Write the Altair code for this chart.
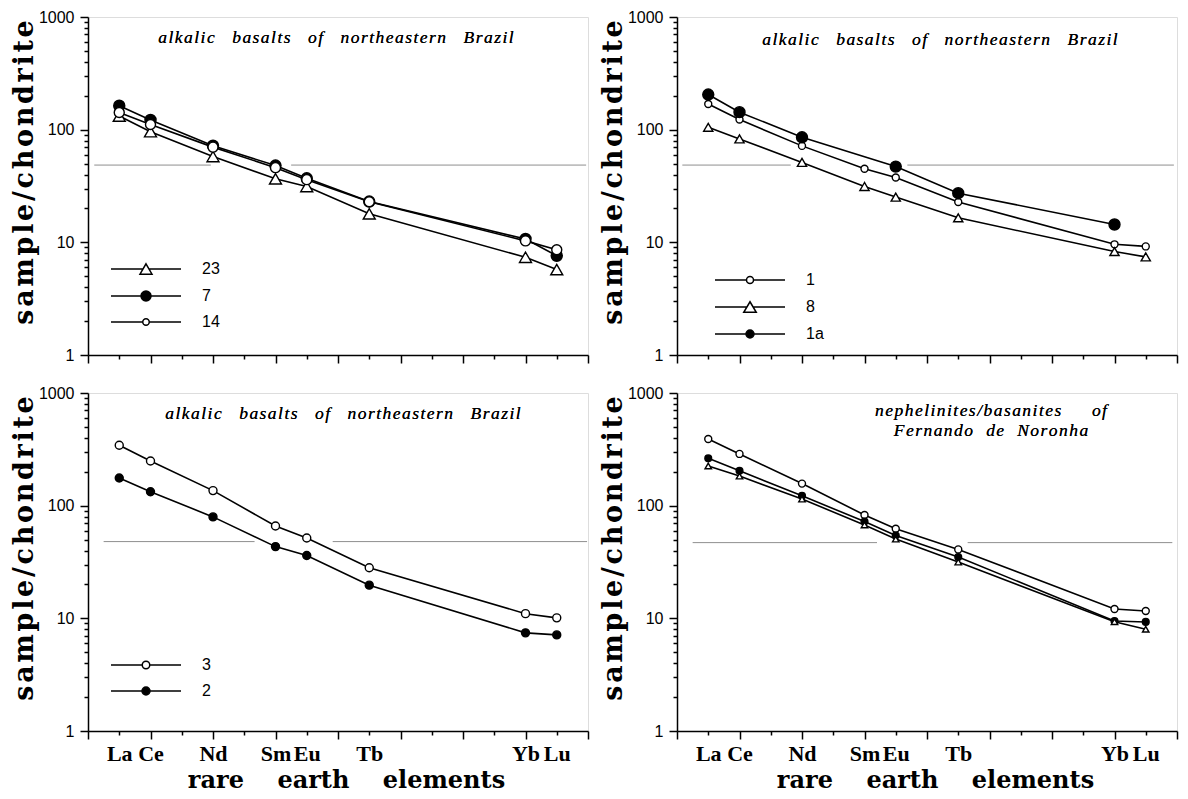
import altair as alt
import pandas as pd

# ---------------- data ----------------
elements = ["La", "Ce", "Nd", "Sm", "Eu", "Tb", "Yb", "Lu"]
atomic_numbers = [57, 58, 60, 62, 63, 65, 70, 71]

# top-left panel
tl_samples = ["23", "7", "14"]
tl_23 = [132, 96, 57.7, 36.6, 31.3, 17.9, 7.37, 5.73]
tl_7 = [163, 122, 72, 48, 37, 23, 10.7, 7.6]
tl_14 = [142, 111, 70, 46, 36, 22.9, 10.3, 8.6]

# top-right panel
tr_samples = ["1", "8", "1a"]
tr_1 = [169, 123, 71.8, 45, 37.6, 22.8, 9.6, 9.2]
tr_8 = [105, 82.8, 51.2, 31.3, 25.2, 16.5, 8.28, 7.43]
tr_1a = [205, 143, 85.6, None, 47, 27.3, 14.4, None]

# bottom-left panel
bl_samples = ["3", "2"]
bl_3 = [344, 249, 136, 66, 51.6, 28.1, 11.0, 10.1]
bl_2 = [176, 133, 79.5, 43.3, 36.1, 19.7, 7.43, 7.13]

# bottom-right panel (no legend in the original)
br_samples = ["open", "filled", "triangle"]
br_open = [390, 288, 157, 82.7, 62.3, 40.9, 12.1, 11.6]
br_filled = [263, 204, 122.5, 72.2, 54.4, 35.0, 9.47, 9.29]
br_triangle = [225, 183, 114.5, 67.5, 50.5, 31.6, 9.34, 8.0]

# faint horizontal line segments seen in each panel (x in atomic-number units)
tl_gray = {"z": [56.2, 62.5], "z2": [59.93, 71.94], "value": [48.5, 48.5]}
tr_gray = {"z": [56.17, 63.37], "z2": [59.64, 71.9], "value": [48.5, 48.5]}
bl_gray = {"z": [56.5, 63.83], "z2": [61.33, 71.97], "value": [48, 48]}
br_gray = {"z": [56.5, 65.3], "z2": [62.4, 71.85], "value": [47, 47]}

# ---------------- styling helpers ----------------
PW, PH = 500, 338
HAIR = "\u200a"
NB = "\u00a0"


def spaced(text, gap=3):
    return (NB * gap).join(HAIR.join(w) for w in text.split())


def circle_path(r, L=7.0):
    return (f"M{-L},0H{-r}M{r},0H{L}"
            f"M{-r},0A{r},{r} 0 1,1 {r},0A{r},{r} 0 1,1 {-r},0Z")


def tri_path(w, h, L=7.0):
    return (f"M{-L},0H{-w/2}M{w/2},0H{L}"
            f"M0,{-h}L{w},{h}L{-w},{h}Z")


major_y = [1, 10, 100, 1000]
minor_y = [d * m for d in (1, 10, 100) for m in range(2, 10)]
even_x = list(range(56, 73, 2))
odd_x = list(range(57, 72, 2))

x_label_expr = (f"indexof({atomic_numbers}, datum.value) >= 0 ? "
                f"{elements}[indexof({atomic_numbers}, datum.value)] : ''")

XS = alt.Scale(domain=[56, 72], nice=False, zero=False)
YS = alt.Scale(type="log", domain=[1, 1000], nice=False)
TICK = dict(ticks=True, tickColor="black", tickWidth=1.5, tickOpacity=1, grid=False)


def panel(series, order, shapes, fills, sizes, gray, title, title_xy,
          bottom, legend_paths=None, legend_xy=None):
    rows = []
    for name in order:
        for el, z, v in zip(elements, atomic_numbers, series[name]):
            if v is not None:
                rows.append({"sample": name, "element": el, "z": z, "value": v})
    df = pd.DataFrame(rows)
    gdf = pd.DataFrame(gray)

    # main axes (domain, major ticks, labels, titles)
    xmaj_kw = dict(values=even_x, tickSize=8, labels=False, orient="bottom",
                   title=None, domainColor="black", domainWidth=1.5, **TICK)
    if bottom:
        xmaj_kw.update(
            title=(NB * 4).join(["rare", "earth", "elements"]),
            titleFont="DejaVu Serif", titleFontWeight="bold", titleFontSize=24,
            titleColor="black",
            titleBaseline="alphabetic", titleAlign="center", titleX=258, titleY=56,
        )
    x_major = alt.Axis(**xmaj_kw)
    y_major = alt.Axis(
        values=major_y, format="d", tickSize=8, labelPadding=6, orient="left",
        labelFont="Liberation Sans", labelFontSize=16, labelColor="black",
        labelOverlap=False, labelFlush=False,
        domainColor="black", domainWidth=1.5,
        title=HAIR.join("sample/chondrite"), titleFont="DejaVu Serif",
        titleFontWeight="bold", titleColor="black",
        titleFontSize=27, titleAngle=270, titleAlign="center",
        titleBaseline="alphabetic", titleX=-56, titleY=155, **TICK,
    )
    x_minor = alt.Axis(values=odd_x, tickSize=4, labels=False, domain=False,
                       orient="bottom", title=None, **TICK)
    y_minor = alt.Axis(values=minor_y, tickSize=4, labels=False, domain=False,
                       orient="left", title=None, **TICK)
    x_lab = alt.Axis(values=atomic_numbers, labelExpr=x_label_expr, ticks=False,
                     tickSize=0, domain=False, grid=False, orient="bottom", title=None,
                     labelFont="Liberation Serif", labelFontWeight="bold",
                     labelColor="black",
                     labelFontSize=22, labelBaseline="alphabetic", labelPadding=29,
                     labelOverlap=False, labelFlush=False)

    grayl = alt.Chart(gdf).mark_rule(color="#8f8f8f", strokeWidth=1).encode(
        x=alt.X("z:Q", scale=XS, axis=x_major), x2="z2:Q",
        y=alt.Y("value:Q", scale=YS, axis=y_major))
    lines = alt.Chart(df).mark_line(color="black", strokeWidth=1.6).encode(
        x=alt.X("z:Q", scale=XS, axis=x_minor),
        y=alt.Y("value:Q", scale=YS, axis=y_minor),
        detail="sample:N")
    pts = alt.Chart(df).mark_point(stroke="black", strokeWidth=1.4, opacity=1).encode(
        x=alt.X("z:Q", scale=XS, axis=x_lab if bottom else None),
        y=alt.Y("value:Q", scale=YS, axis=None),
        shape=alt.Shape("sample:N", scale=alt.Scale(domain=order, range=shapes), legend=None),
        fill=alt.Fill("sample:N", scale=alt.Scale(domain=order, range=fills), legend=None),
        size=alt.Size("sample:O", scale=alt.Scale(domain=order, range=sizes), legend=None),
    )
    ttl = alt.Chart(gdf).mark_text(
        font="Liberation Serif", fontStyle="italic", fontSize=17.5, color="black",
        align="center", baseline="alphabetic", lineHeight=20,
    ).encode(x=alt.value(title_xy[0]), y=alt.value(title_xy[1]),
             text=alt.value(title))
    layers = [grayl, lines, pts]
    if legend_paths is not None:
        lkw = dict(
            title=None, orient="none", legendX=legend_xy[0], legendY=legend_xy[1],
            labelFont="Liberation Sans", labelFontSize=16, labelColor="black",
            labelOffset=48, rowPadding=10, symbolSize=100,
            symbolStrokeColor="black", symbolStrokeWidth=1.5, symbolOpacity=1,
            padding=0,
        )
        leg = alt.Chart(df).transform_filter("false").mark_point(
            stroke="black", strokeWidth=1.5, opacity=1
        ).encode(
            x=alt.X("z:Q", scale=XS, axis=None),
            y=alt.Y("value:Q", scale=YS, axis=None),
            shape=alt.Shape("sample:N", scale=alt.Scale(domain=order, range=legend_paths),
                            legend=alt.Legend(**lkw)),
            fill=alt.Fill("sample:N", scale=alt.Scale(domain=order, range=fills),
                          legend=alt.Legend(**lkw)),
            stroke=alt.Stroke("sample:N",
                              scale=alt.Scale(domain=order, range=["black"] * len(order)),
                              legend=alt.Legend(**lkw)),
        )
        layers.append(leg)
    return alt.layer(*(layers + [ttl])).resolve_scale(
        shape="independent", fill="independent", size="independent",
        stroke="independent",
    ).resolve_axis(x="independent", y="independent").properties(width=PW, height=PH)


tl = panel({"23": tl_23, "7": tl_7, "14": tl_14}, tl_samples,
           ["triangle-up", "circle", "circle"], ["white", "black", "white"],
           [144, 100, 56], tl_gray,
           spaced("alkalic basalts of northeastern Brazil", 4), (248, 26), False,
           legend_paths=[tri_path(1.2, 1.04), circle_path(1.0), circle_path(0.65)],
           legend_xy=(50, 244))

tr = panel({"1": tr_1, "8": tr_8, "1a": tr_1a}, tr_samples,
           ["circle", "triangle-up", "circle"], ["white", "white", "black"],
           [49, 121, 64], tr_gray,
           spaced("alkalic basalts of northeastern Brazil", 4), (263, 28), False,
           legend_paths=[circle_path(0.7), tri_path(1.25, 1.05), circle_path(0.8)],
           legend_xy=(65, 255))

bl = panel({"3": bl_3, "2": bl_2}, bl_samples,
           ["circle", "circle"], ["white", "black"],
           [64, 64], bl_gray,
           spaced("alkalic basalts of northeastern Brazil", 4), (255, 26), True,
           legend_paths=[circle_path(0.75), circle_path(0.8)],
           legend_xy=(50, 264))

br_line1 = spaced("nephelinites/basanites", 3) + NB * 7 + spaced("of", 3)
br = panel({"open": br_open, "filled": br_filled, "triangle": br_triangle}, br_samples,
           ["circle", "circle", "triangle-up"], ["white", "black", "white"],
           [49, 42, 169], br_gray,
           [br_line1, spaced("Fernando de Noronha", 3)],
           (314, 23), True)

chart = alt.concat(
    tl, tr, bl, br, columns=2, spacing={"row": 38, "column": 89}, bounds="flush"
).properties(
    padding={"left": 1, "top": 0, "right": 0, "bottom": 0}
).configure_view(
    stroke="black", strokeWidth=1.5
).configure_axis(
    domainColor="black", domainWidth=1.5, tickColor="black", tickWidth=1.5,
    labelColor="black", titleColor="black",
).configure(background="white")

chart.save("out.html", embed_options={"renderer": "svg", "actions": False})
